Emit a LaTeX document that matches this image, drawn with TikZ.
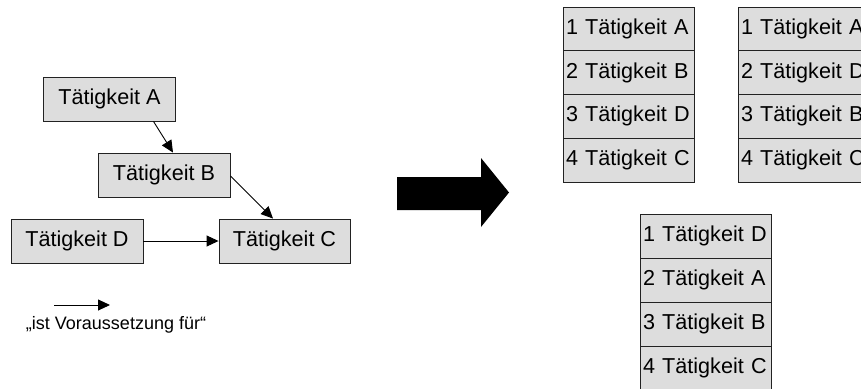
\documentclass[tikz,border=0pt]{standalone}
\usepackage{fontspec}
\setmainfont{Liberation Sans}
\usetikzlibrary{arrows.meta,calc}
\definecolor{boxfill}{HTML}{DDDDDD}
\definecolor{boxline}{HTML}{222222}
\tikzset{
  task/.style={draw=boxline, fill=boxfill, line width=0.9pt,
    minimum width=132pt, minimum height=44pt, inner sep=0pt,
    font=\fontsize{21.6}{26}\selectfont},
  seqrow/.style={draw=boxline, fill=boxfill, line width=0.9pt,
    outer sep=0pt, inner xsep=3pt, inner ysep=0pt,
    text width=125pt, align=left, minimum height=#1,
    font=\fontsize{21.6}{26}\selectfont},
  seqrow/.default=43.75pt,
  dep/.style={line width=0.9pt, -{Triangle[length=12pt,width=11pt]}},
}
\begin{document}
\begin{tikzpicture}[x=1pt,y=-1pt]
\clip (0,0) rectangle (861,388);
\fill[white] (0,0) rectangle (861,388);

% precedence graph
\node[task] (A) at (109.5,99) {Tätigkeit A};
\node[task] (B) at (164,175) {Tätigkeit B};
\node[task] (D) at (77,241) {Tätigkeit D};
\node[task, minimum width=131pt] (C) at (284.5,241) {Tätigkeit C};

\draw[dep] ($(A.south)+(44,0)$) -- ($(B.north)+(9,0)$);
\draw[dep] ($(B.east)+(0,1)$) -- ($(C.north)+(-11.5,0)$);
\draw[dep] (D.east) -- (C.west);

% legend
\coordinate (l1) at (54,305);
\coordinate (l2) at (110,305);
\draw[dep] (l1) -- (l2);
\node[font=\fontsize{18}{22}\selectfont] (legend) at (116,325) {„ist Voraussetzung für“};

% transition arrow
\fill[black] (397,177) -- (481,177) -- (481,158) -- (509,192.5)
  -- (481,227) -- (481,210) -- (397,210) -- cycle;

% admissible sequences
\node[seqrow, anchor=north west] (s1a) at (563,7) {1 Tätigkeit A};
\node[seqrow, anchor=north] (s1b) at (s1a.south) {2 Tätigkeit B};
\node[seqrow, anchor=north] (s1c) at (s1b.south) {3 Tätigkeit D};
\node[seqrow, anchor=north] (s1d) at (s1c.south) {4 Tätigkeit C};

\node[seqrow, anchor=north west] (s2a) at (738,7) {1 Tätigkeit A};
\node[seqrow, anchor=north] (s2b) at (s2a.south) {2 Tätigkeit D};
\node[seqrow, anchor=north] (s2c) at (s2b.south) {3 Tätigkeit B};
\node[seqrow, anchor=north] (s2d) at (s2c.south) {4 Tätigkeit C};

\node[seqrow=44pt, anchor=north west] (s3a) at (640,214) {1 Tätigkeit D};
\node[seqrow=44pt, anchor=north] (s3b) at (s3a.south) {2 Tätigkeit A};
\node[seqrow=44pt, anchor=north] (s3c) at (s3b.south) {3 Tätigkeit B};
\node[seqrow=44pt, anchor=north] (s3d) at (s3c.south) {4 Tätigkeit C};
\end{tikzpicture}
\end{document}
